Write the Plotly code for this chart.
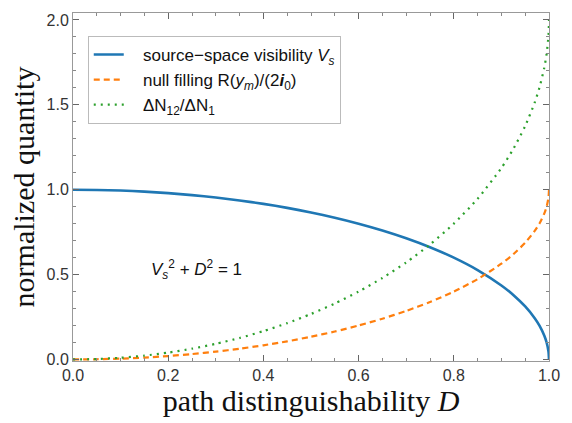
import plotly.graph_objects as go

# Values
D = [0.0, 0.05, 0.1, 0.15, 0.2, 0.25, 0.3, 0.35, 0.4, 0.45, 0.5, 0.55, 0.6, 0.65,
     0.7, 0.75, 0.8, 0.85, 0.9, 0.925, 0.95, 0.97, 0.98, 0.99, 0.995, 0.999, 1.0]
visibility = [1.0, 0.9987, 0.995, 0.9887, 0.9798, 0.9682, 0.9539, 0.9367, 0.9165, 0.893,
              0.866, 0.8352, 0.8, 0.7599, 0.7141, 0.6614, 0.6, 0.5268, 0.4359, 0.38,
              0.3122, 0.2431, 0.199, 0.1411, 0.0999, 0.0447, 0.0]
null_filling = [0.0, 0.0013, 0.005, 0.0113, 0.0202, 0.0318, 0.0461, 0.0633, 0.0835, 0.107,
                0.134, 0.1648, 0.2, 0.2401, 0.2859, 0.3386, 0.4, 0.4732, 0.5641, 0.62,
                0.6878, 0.7569, 0.801, 0.8589, 0.9001, 0.9553, 1.0]
dn_ratio = [0.0, 0.0026, 0.01, 0.0226, 0.0404, 0.0636, 0.0922, 0.1266, 0.167, 0.214,
            0.268, 0.3296, 0.4, 0.4802, 0.5718, 0.6772, 0.8, 0.9464, 1.1282, 1.24,
            1.3756, 1.5138, 1.602, 1.7178, 1.8002, 1.9106, 2.0]

pad = "\u00a0\u00a0\u00a0"
names = [pad + "source\u2212space visibility <i>V</i><sub><i>s</i></sub>",
         pad + "null filling R(<i>y</i><sub><i>m</i></sub>)/(2<b><i>i</i></b><sub>0</sub>)",
         pad + "\u0394N<sub>12</sub>/\u0394N<sub>1</sub>"]
x_ticks = [0.0, 0.2, 0.4, 0.6, 0.8, 1.0]
y_ticks = [0.0, 0.5, 1.0, 1.5, 2.0]

fig = go.Figure()
fig.add_trace(go.Scatter(x=D, y=visibility, mode="lines", name=names[0],
                         line=dict(color="#1f77b4", width=2.6, shape="spline", smoothing=0.6)))
fig.add_trace(go.Scatter(x=D, y=null_filling, mode="lines", name=names[1],
                         line=dict(color="#ff7f0e", width=2.2, dash="6px,4px", shape="spline", smoothing=0.6)))
fig.add_trace(go.Scatter(x=D, y=dn_ratio, mode="lines", name=names[2],
                         line=dict(color="#2ca02c", width=2.2, dash="2px,5px", shape="spline", smoothing=0.6)))

frame = "#999999"
axis_common = dict(showline=True, linecolor=frame, linewidth=1, mirror="allticks",
                   ticks="inside", ticklen=6, tickcolor="#666666", tickwidth=1,
                   showgrid=False, zeroline=False,
                   tickfont=dict(family="Liberation Sans, Arial", size=16, color="#333333"))

fig.update_xaxes(range=[0, 1], tickvals=x_ticks, tickformat=".1f",
                 minor=dict(dtick=0.05, tick0=0, ticks="inside", ticklen=3, tickcolor="#888888"),
                 title=dict(text="path distinguishability <i>D</i>",
                            font=dict(family="Liberation Serif, Times New Roman", size=30, color="#111111"),
                            standoff=6),
                 **axis_common)
fig.update_yaxes(range=[-0.009, 2.041], tickvals=y_ticks, tickformat=".1f",
                 minor=dict(dtick=0.1, tick0=0, ticks="inside", ticklen=3, tickcolor="#888888"),
                 title=dict(text="normalized quantity",
                            font=dict(family="Liberation Serif, Times New Roman", size=30, color="#111111"),
                            standoff=3),
                 **axis_common)

fig.add_annotation(x=0.16, y=0.53, xref="x", yref="y", xanchor="left", yanchor="middle",
                   text="<i>V</i><sub><i>s</i></sub><sup>2</sup> + <i>D</i><sup>2</sup> = 1",
                   showarrow=False, font=dict(family="Liberation Sans, Arial", size=17, color="#111111"))

fig.update_layout(
    width=572, height=423,
    margin=dict(l=73, r=19, t=13, b=60),
    paper_bgcolor="white", plot_bgcolor="white",
    showlegend=True,
    legend=dict(x=0.031, y=0.934, xanchor="left", yanchor="top",
                bgcolor="white", bordercolor="#bbbbbb", borderwidth=1,
                font=dict(family="Liberation Sans, Arial", size=17, color="#111111"),
                tracegroupgap=0),
)

fig.write_html("out.html")
